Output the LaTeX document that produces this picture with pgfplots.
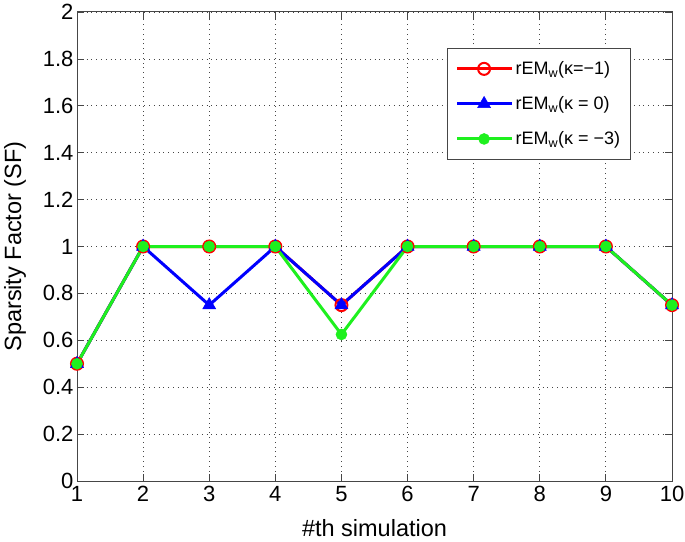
\documentclass[border=0pt]{standalone}
\usepackage{fontspec}
\setmainfont{Liberation Sans}
\usepackage{pgfplots}
\pgfplotsset{compat=1.18}
\definecolor{mgreen}{RGB}{30,240,30}
\definecolor{axgray}{RGB}{70,70,70}
\begin{document}
\begin{tikzpicture}
\begin{axis}[
  width=595pt, height=469pt, scale only axis,
  xmin=1, xmax=10, ymin=0, ymax=2,
  xtick={1,...,10},
  ytick={0,0.2,0.4,0.6,0.8,1,1.2,1.4,1.6,1.8,2},
  yticklabels={0,0.2,0.4,0.6,0.8,1,1.2,1.4,1.6,1.8,2},
  /pgf/number format/assume math mode=true,
  tick label style={font=\fontsize{22}{26}\selectfont},
  xticklabel style={yshift=-2pt},
  xlabel={\#th simulation},
  ylabel={Sparsity Factor (SF)},
  label style={font=\fontsize{23.5}{28}\selectfont},
  ylabel style={at={(axis description cs:-0.094,0.5)}, anchor=base, rotate=0},
  xlabel style={at={(axis description cs:0.5,-0.1173)}, anchor=base},
  tick align=inside, major tick length=7pt,
  axis line style={line width=1pt, axgray},
  every tick/.style={axgray, line width=0.8pt},
  grid=major,
  major grid style={axgray, line width=0.8pt, dash pattern=on 0.8pt off 4pt},
  clip=false,
  legend style={at={(0.622,0.923)}, anchor=north west, font=\fontsize{18}{21}\selectfont,
    draw=axgray, line width=1pt, inner xsep=8pt, inner ysep=11pt, row sep=16.5pt, cells={anchor=west}},
  legend image code/.code={
    \draw[mark repeat=2,mark phase=2,#1] plot coordinates {(0pt,0pt) (27pt,0pt) (55pt,0pt)};
  },
]
\addplot[red, line width=3pt, mark=o, mark size=6pt, mark options={line width=2pt}]
  coordinates {(1,0.5)(2,1)(3,1)(4,1)(5,0.75)(6,1)(7,1)(8,1)(9,1)(10,0.75)};
\addlegendentry{rEM\textsubscript{w}(κ=−1)}
\addplot[blue, line width=3pt, mark=triangle*, mark size=7.5pt, mark options={line width=0.5pt}]
  coordinates {(1,0.5)(2,1)(3,0.75)(4,1)(5,0.75)(6,1)(7,1)(8,1)(9,1)(10,0.75)};
\addlegendentry{rEM\textsubscript{w}(κ = 0)}
\addplot[mgreen, line width=3pt, mark=*, mark size=5.5pt, mark options={fill=mgreen, line width=0.5pt}]
  coordinates {(1,0.5)(2,1)(3,1)(4,1)(5,0.625)(6,1)(7,1)(8,1)(9,1)(10,0.75)};
\addlegendentry{rEM\textsubscript{w}(κ = −3)}
\path (rel axis cs:0,0) ++(-77pt,-60pt) coordinate (bbA);
\path (rel axis cs:1,1) ++(13pt,12pt) coordinate (bbB);
\end{axis}
\pgfresetboundingbox
\useasboundingbox (bbA) rectangle (bbB);
\end{tikzpicture}
\end{document}
